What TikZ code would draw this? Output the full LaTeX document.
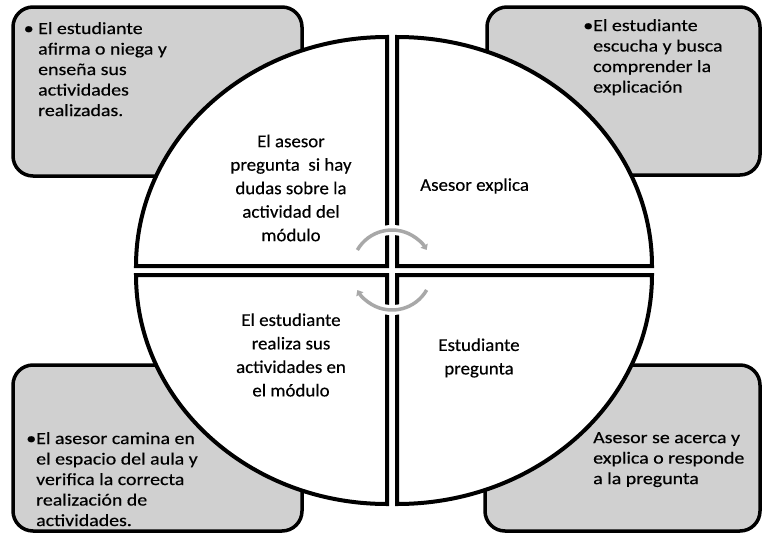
\documentclass[tikz,border=0pt]{standalone}
\usepackage{fontspec}
\setmainfont{Carlito}
\newfontfamily\boxfont[FakeStretch=1.17,FakeBold=0.4]{Carlito}
\newfontfamily\quadfont[FakeStretch=1.05,FakeBold=0.3]{Carlito}
\usetikzlibrary{arrows.meta}
\definecolor{boxgray}{HTML}{D0D0D0}
\definecolor{arrgray}{HTML}{A8A8A8}
\begin{document}
\begin{tikzpicture}[x=1pt,y=-1pt,
  boxshape/.style={draw=black, line width=3.5pt, fill=boxgray, rounded corners=20pt},
  quad/.style={draw=black, line width=4pt, fill=white, line join=miter},
  quadtext/.style={align=center, inner sep=0pt, font=\quadfont\fontsize{18}{23.5}\selectfont},
  boxtext/.style={align=left, inner sep=0pt, anchor=north west, font=\boxfont\fontsize{17}{20.5}\selectfont},
  halo/.style={draw=white, line width=10pt},
  cyc/.style={draw=arrgray, line width=3.5pt, -{Triangle[length=5pt,width=8pt]}}]
\useasboundingbox (0,0) rectangle (763,533);
% outer boxes
\draw[boxshape] (13,7) rectangle (302,176);
\draw[boxshape] (487,7) rectangle (760,175);
\draw[boxshape] (13,365) rectangle (302,531);
\draw[boxshape] (485,365) rectangle (760,531);
\node[boxtext] (t1) at (38,22) {\llap{•\ }El estudiante\\afirma o niega y\\enseña sus\\actividades\\realizadas.};
\node[boxtext] (t2) at (593,19) {\llap{•}El estudiante\\escucha y busca\\comprender la\\explicación};
\node[boxtext] (t3) at (36,432) {\llap{•}El asesor camina en\\el espacio del aula y\\verifica la correcta\\realización de\\actividades.};
\node[boxtext] (t4) at (593,432) {Asesor se acerca y\\explica o responde\\a la pregunta};
% quadrants
\draw[quad] (387,266) -- (136,266) arc[start angle=180, end angle=270, x radius=251, y radius=229] -- cycle;
\draw[quad] (397,266) -- (397,37) arc[start angle=270, end angle=360, x radius=255, y radius=229] -- cycle;
\draw[quad] (387,275) -- (136,275) arc[start angle=180, end angle=90, x radius=251, y radius=229] -- cycle;
\draw[quad] (397,275) -- (397,504) arc[start angle=90, end angle=0, x radius=255, y radius=229] -- cycle;
\node[quadtext] (q1) at (291,188) {El asesor\\pregunta \ si hay\\dudas sobre la\\actividad del\\módulo};
\node[quadtext, anchor=west] (q2) at (420,186) {Asesor explica};
\node[quadtext] (q3) at (291,355) {El estudiante\\realiza sus\\actividades en\\el módulo};
\node[quadtext] (q4) at (479,358) {Estudiante\\pregunta};
% cycle arrows
\coordinate (c) at (392,270);
\coordinate (a1) at ([shift={(-34.64,-20)}]c);
\coordinate (a2) at ([shift={(34.64,20)}]c);
\draw[halo] (a1) arc[start angle=-150, end angle=-30, radius=40];
\draw[halo] (a2) arc[start angle=30, end angle=150, radius=40];
\draw[cyc] (a1) arc[start angle=-150, end angle=-30, radius=40];
\draw[cyc] (a2) arc[start angle=30, end angle=150, radius=40];
\end{tikzpicture}
\end{document}
